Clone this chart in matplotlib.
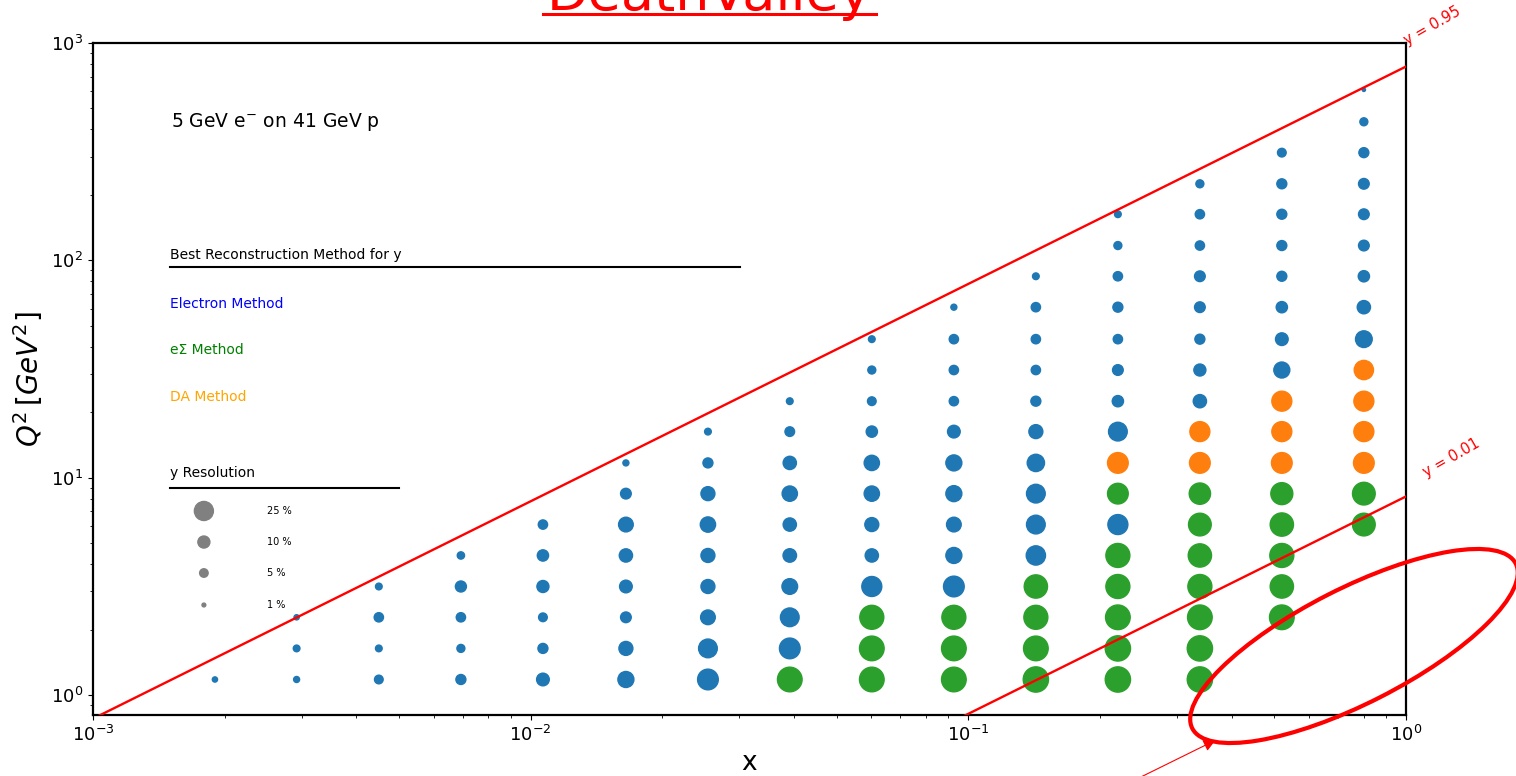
import matplotlib
matplotlib.use("Agg")
import matplotlib.pyplot as plt
from matplotlib.patches import Ellipse

# beam energies (GeV) and y-lines drawn
E_e = 5
E_p = 41
y_lines = [0.95, 0.01]

# bin centres
x_bins = [0.00190, 0.00292, 0.00450, 0.00693, 0.01067, 0.01651, 0.02542, 0.0391,
          0.0602, 0.0927, 0.1427, 0.2197, 0.3382, 0.5205, 0.8014]
q2_bins = [1.18, 1.64, 2.28, 3.16, 4.39, 6.09, 8.45, 11.7, 16.3, 22.5,
           31.3, 43.4, 60.9, 84.5, 117, 163, 225, 313, 434, 609]

# best method per (x column, Q2 row from bottom): e = electron, s = e-Sigma, d = DA
best_method = [
    "e...................",
    "eee.................",
    "eeee................",
    "eeeee...............",
    "eeeeee..............",
    "eeeeeeee............",
    "eeeeeeeee...........",
    "seeeeeeeee..........",
    "ssseeeeeeeee........",
    "ssseeeeeeeeee.......",
    "sssseeeeeeeeee......",
    "sssssesdeeeeeeee....",
    "sssssssddeeeeeeee...",
    "..sssssdddeeeeeeee..",
    ".....ssddddeeeeeeeee",
]

# y resolution (%) for the filled cells of each column, bottom to top
resolution = [
    [1.9],
    [2.5, 3.1, 1.9],
    [5.2, 3.1, 6.0, 3.1],
    [6.9, 4.4, 6.0, 8.4, 3.7],
    [11.1, 6.9, 5.2, 10.0, 8.8, 6.0],
    [17.7, 13.5, 7.9, 11.1, 12.2, 14.9, 7.9, 2.5],
    [29.6, 24.2, 14.9, 13.5, 13.5, 16.2, 13.5, 6.9, 3.1],
    [42.0, 29.6, 24.2, 17.0, 12.6, 12.2, 16.2, 12.2, 6.4, 3.1],
    [42.0, 42.0, 39.8, 27.6, 12.2, 13.5, 16.2, 16.2, 8.8, 5.2, 4.4, 3.1],
    [42.0, 42.0, 39.8, 29.6, 17.7, 14.9, 17.7, 17.7, 11.1, 6.0, 6.0, 6.0, 2.5],
    [44.2, 42.0, 39.8, 37.5, 25.7, 24.2, 24.2, 20.7, 13.5, 6.9, 6.0, 6.0, 6.0, 3.1],
    [44.2, 44.2, 42.0, 39.8, 39.8, 27.6, 29.6, 29.6, 24.2, 8.8, 7.9, 6.0, 6.9, 6.0, 4.4, 3.1],
    [44.2, 44.2, 42.0, 39.8, 37.5, 35.6, 31.4, 29.6, 27.6, 12.2, 10.0, 6.9, 7.9, 7.9, 6.0, 6.0, 4.4],
    [42.0, 37.5, 39.8, 37.5, 33.4, 29.6, 27.6, 27.6, 17.7, 11.1, 8.8, 6.9, 6.9, 6.9, 6.9, 5.2],
    [35.6, 35.6, 29.6, 27.6, 27.6, 25.7, 19.3, 12.2, 8.8, 7.9, 7.9, 7.9, 6.9, 4.4, 0.75],
]

legend_res = [25, 10, 5, 1]
legend_labels = ["25 %", "10 %", "5 %", "1 %"]

method_colors = {"e": "#1f77b4", "s": "#2ca02c", "d": "#ff7f0e"}
size_per_pct = 7.5


def collect_points():
    xs, ys, sizes, colors = [], [], [], []
    for col, methods in enumerate(best_method):
        vals = iter(resolution[col])
        for row, m in enumerate(methods):
            if m == ".":
                continue
            xs.append(x_bins[col])
            ys.append(q2_bins[row])
            sizes.append(next(vals) * size_per_pct)
            colors.append(method_colors[m])
    return xs, ys, sizes, colors


fig = plt.figure(figsize=(15.16, 7.76), dpi=100)
ax = fig.add_axes([0.0613, 0.0786, 0.8661, 0.866])
ax.set_xscale("log")
ax.set_yscale("log")
ax.set_xlim(1e-3, 1)
ax.set_ylim(0.81, 1000)

xs, ys, sizes, colors = collect_points()
ax.scatter(xs, ys, s=sizes, c=colors, zorder=3)

s = 4 * E_e * E_p
x_ends = [1e-3, 1.0]
for yv in y_lines:
    ax.plot(x_ends, [s * yv * xe for xe in x_ends], color="red", lw=1.7, zorder=4)

ax.text(1.018, 950, "y = 0.95", color="red", fontsize=10.5, rotation=30,
        ha="left", va="bottom", rotation_mode="anchor", clip_on=False)
ax.text(1.125, 9.8, "y = 0.01", color="red", fontsize=10.5, rotation=30,
        ha="left", va="bottom", rotation_mode="anchor", clip_on=False)

ax.set_xlabel("x", fontsize=19)
ax.set_ylabel(r"$Q^2\,[GeV^2]$", fontsize=20)
ax.tick_params(labelsize=13)
for sp in ax.spines.values():
    sp.set_linewidth(1.6)

# text block inside the axes
ax.text(0.0594, 0.882, r"5 GeV e$^{-}$ on 41 GeV p", transform=ax.transAxes,
        fontsize=13.5, va="center")
ax.text(0.0586, 0.6845, "Best Reconstruction Method for y", transform=ax.transAxes,
        fontsize=10, va="center")
ax.plot([0.0586, 0.4928], [0.6667, 0.6667], color="black", lw=1.5, transform=ax.transAxes)
ax.text(0.0586, 0.6116, "Electron Method", transform=ax.transAxes, fontsize=10,
        va="center", color="blue")
ax.text(0.0586, 0.5432, "e\u03a3 Method", transform=ax.transAxes, fontsize=10,
        va="center", color="green")
ax.text(0.0586, 0.4732, "DA Method", transform=ax.transAxes, fontsize=10,
        va="center", color="orange")
ax.text(0.0586, 0.3601, "y Resolution", transform=ax.transAxes, fontsize=10, va="center")
ax.plot([0.0586, 0.233], [0.3378, 0.3378], color="black", lw=1.5, transform=ax.transAxes)

leg_y = [0.3036, 0.2574, 0.2113, 0.1637]
ax.scatter([0.0845] * len(legend_res), leg_y, s=[r * size_per_pct for r in legend_res],
           color="gray", transform=ax.transAxes, zorder=3)
for yy, lab in zip(leg_y, legend_labels):
    ax.text(0.1325, yy, lab, transform=ax.transAxes, fontsize=7, va="center")

# title partly cut at the top edge, underlined
fig.text(0.468, 0.987, "DeathValley", color="red", fontsize=39, ha="center",
         va="baseline")
fig.add_artist(plt.Line2D([543 / 1516, 876 / 1516], [0.9826, 0.9826], color="red",
                          lw=2.2, transform=fig.transFigure))

# hand-drawn style ellipse and arrow
ell = Ellipse((13.54, 1.30), 3.63, 1.15, angle=27, fill=False, edgecolor="red",
              lw=3, transform=fig.dpi_scale_trans, clip_on=False)
fig.add_artist(ell)
ax.annotate("", xy=(0.8034, 0.0477), xytext=(0.7487, -0.005),
            xycoords="figure fraction", textcoords="figure fraction",
            arrowprops=dict(arrowstyle="-|>", color="red", lw=0.8, mutation_scale=18),
            annotation_clip=False)

fig.savefig("out.png", dpi=100)
